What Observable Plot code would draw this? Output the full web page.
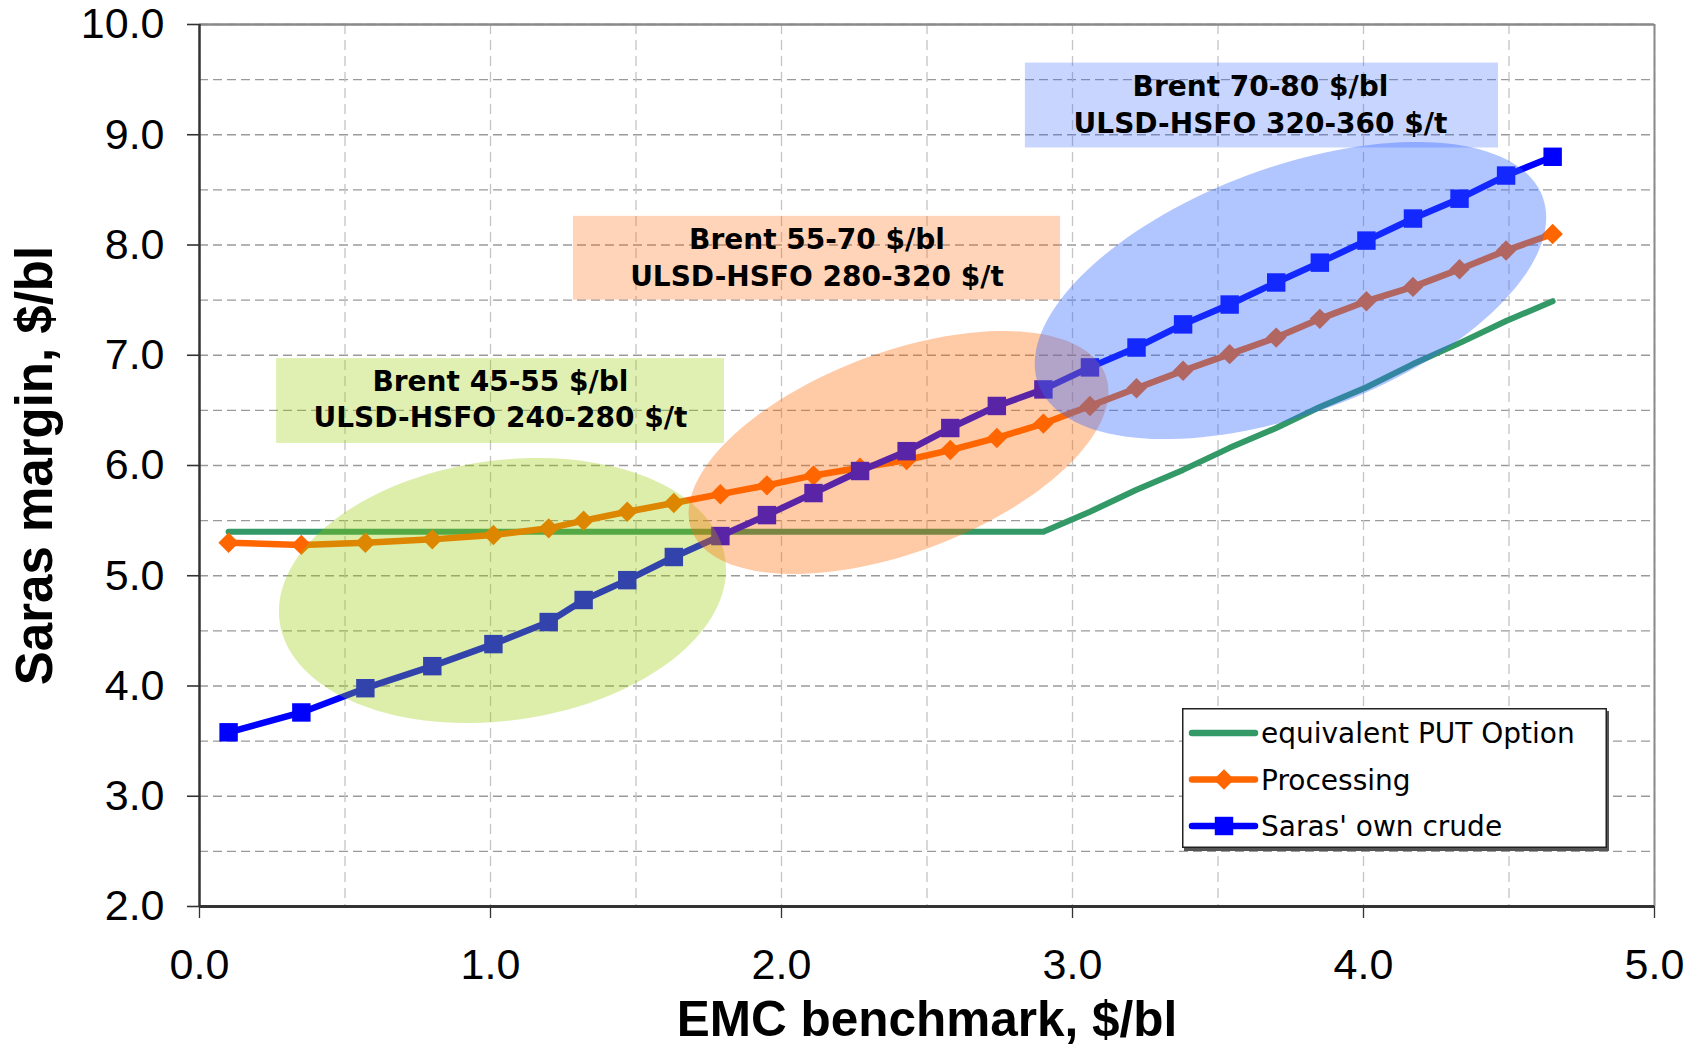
<!DOCTYPE html>
<html>
<head>
<meta charset="utf-8">
<script src="https://cdn.jsdelivr.net/npm/d3@7"></script>
<script src="https://cdn.jsdelivr.net/npm/@observablehq/plot@0.6"></script>
<style>
  html, body { margin: 0; padding: 0; background: #fff; }
  #wrap { position: relative; width: 1698px; height: 1046px; overflow: hidden; }
  #legend { position: absolute; left: 1182px; top: 708px; }
</style>
</head>
<body>
<div id="wrap"><div id="chart"></div><div id="legend"></div></div>
<script>
// ---------------- data ----------------
const emc = [0.10, 0.35, 0.57, 0.80, 1.01, 1.20, 1.32, 1.47, 1.63, 1.79, 1.95, 2.11, 2.27, 2.43,
             2.58, 2.74, 2.90, 3.06, 3.22, 3.38, 3.54, 3.70, 3.85, 4.01, 4.17, 4.33, 4.49, 4.65];
const putOption = [5.40, 5.40, 5.40, 5.40, 5.40, 5.40, 5.40, 5.40, 5.40, 5.40, 5.40, 5.40, 5.40, 5.40,
                   5.40, 5.40, 5.40, 5.58, 5.78, 5.96, 6.16, 6.34, 6.53, 6.71, 6.92, 7.11, 7.31, 7.49];
const processing = [5.30, 5.28, 5.30, 5.33, 5.37, 5.43, 5.50, 5.58, 5.66, 5.74, 5.82, 5.91, 5.98, 6.05,
                    6.14, 6.25, 6.38, 6.54, 6.70, 6.86, 7.01, 7.16, 7.33, 7.49, 7.62, 7.78, 7.95, 8.10];
const ownCrude = [3.58, 3.76, 3.98, 4.18, 4.38, 4.58, 4.78, 4.96, 5.17, 5.36, 5.55, 5.75, 5.95, 6.13,
                  6.34, 6.54, 6.69, 6.89, 7.07, 7.28, 7.46, 7.66, 7.84, 8.04, 8.24, 8.42, 8.63, 8.80];
const seriesNames = ["equivalent PUT Option", "Processing", "Saras' own crude"];

const xTicks = [0, 1, 2, 3, 4, 5];
const yTicks = [2, 3, 4, 5, 6, 7, 8, 9, 10];
const xTitle = "EMC benchmark, $/bl";
const yTitle = "Saras margin, $/bl";

// scenario annotations (data units)
const boxLabels = ["Brent 45-55 $/bl\nULSD-HSFO 240-280 $/t",
                   "Brent 55-70 $/bl\nULSD-HSFO 280-320 $/t",
                   "Brent 70-80 $/bl\nULSD-HSFO 320-360 $/t"];
const boxX1 = [0.265, 1.285, 2.838];
const boxX2 = [1.804, 2.959, 4.464];
const boxY1 = [6.20, 7.50, 8.88];
const boxY2 = [6.97, 8.26, 9.65];
const boxTextX = [1.034, 2.122, 3.646];
const boxTextY = [6.62, 7.90, 9.29];
// ellipse centres (data units), semi-axes (px) and tilt (deg)
const ellCx = [1.041, 2.402, 3.749];
const ellCy = [4.866, 6.118, 7.587];
const ellA = [225, 221, 269];
const ellB = [130, 100, 123];
const ellAngle = [8, 20.5, 20.4];

// ---------------- layout / style ----------------
const W = 1698, H = 1046, mL = 199, mR = 44, mT = 24, mB = 140;
const kx = (W - mL - mR) / (xTicks[xTicks.length - 1] - xTicks[0]);
const ky = (H - mT - mB) / (yTicks[yTicks.length - 1] - yTicks[0]);
const colGreen = "#339966", colOrange = "#ff6600", colBlue = "#0000ff";
const tintColors = ["#99cc00", "#ff6600", "#3366ff"];
const ellOpacity = [0.33, 0.35, 0.38];
const boxOpacity = [0.30, 0.28, 0.27];
const fmt = d3.format(".1f");
const rDiamond = 9.2, rSquare = 10.4;

const rows = emc.map((x, i) => ({x, put: putOption[i], proc: processing[i], own: ownCrude[i]}));

function ellipsePoints(k) {
  const pts = [];
  const phi = ellAngle[k] * Math.PI / 180;
  for (let i = 0; i < 144; i++) {
    const t = i / 144 * 2 * Math.PI;
    const dx = ellA[k] * Math.cos(t) * Math.cos(phi) - ellB[k] * Math.sin(t) * Math.sin(phi);
    const dy = ellA[k] * Math.cos(t) * Math.sin(phi) + ellB[k] * Math.sin(t) * Math.cos(phi);
    pts.push({x: ellCx[k] + dx / kx, y: ellCy[k] + dy / ky});
  }
  return pts;
}

const boxes = boxLabels.map((t, i) => ({t, x1: boxX1[i], x2: boxX2[i], y1: boxY1[i], y2: boxY2[i],
                                         tx: boxTextX[i], ty: boxTextY[i], c: tintColors[i], o: boxOpacity[i]}));

const marks = [
  Plot.gridY({interval: 0.5, stroke: "#9a9a9a", strokeOpacity: 1, strokeWidth: 1.3, strokeDasharray: "9,5"}),
  Plot.gridX({interval: 0.5, stroke: "#c4c4c4", strokeOpacity: 1, strokeWidth: 1.3, strokeDasharray: "10,6"}),
  Plot.ruleY([yTicks[yTicks.length - 1]], {stroke: "#8a8a8a", strokeWidth: 2.5}),
  Plot.ruleX([xTicks[xTicks.length - 1]], {stroke: "#8a8a8a", strokeWidth: 2}),
  Plot.line(rows, {x: "x", y: "put", stroke: colGreen, strokeWidth: 6, strokeLinejoin: "round", strokeLinecap: "round"}),
  Plot.line(rows, {x: "x", y: "proc", stroke: colOrange, strokeWidth: 6.5, strokeLinejoin: "round"}),
  Plot.dot(rows, {x: "x", y: "proc", symbol: "diamond2", r: rDiamond, fill: colOrange, stroke: "none"}),
  Plot.line(rows, {x: "x", y: "own", stroke: colBlue, strokeWidth: 6.5, strokeLinejoin: "round"}),
  Plot.dot(rows, {x: "x", y: "own", symbol: "square", r: rSquare, fill: colBlue, stroke: "none"}),
];
for (let k = 0; k < 3; k++) {
  marks.push(Plot.line(ellipsePoints(k), {x: "x", y: "y", curve: "linear-closed", fill: tintColors[k],
                                          fillOpacity: ellOpacity[k], stroke: "none"}));
}
marks.push(
  Plot.rect(boxes, {x1: "x1", x2: "x2", y1: "y1", y2: "y2", fill: d => d.c, fillOpacity: d => d.o}),
  Plot.text(boxes, {x: "tx", y: "ty", text: "t", fontSize: 28, fontWeight: "bold", lineHeight: 1.32,
                    lineAnchor: "middle", fontFamily: "DejaVu Sans, sans-serif", fill: "#000"}),
  Plot.ruleX([xTicks[0]], {stroke: "#333", strokeWidth: 2.5}),
  Plot.ruleY([yTicks[0]], {stroke: "#333", strokeWidth: 3}),
  Plot.axisY({ticks: yTicks, tickFormat: fmt, tickSize: 12, tickPadding: 23, fontSize: 43, stroke: "#333", strokeWidth: 1.6, label: null}),
  Plot.axisX({ticks: xTicks, tickFormat: fmt, tickSize: 12, tickPadding: 30, fontSize: 43, stroke: "#333", strokeWidth: 1.3, label: null}),
  Plot.text([xTitle], {text: d => d, frameAnchor: "bottom", textAnchor: "middle", dy: 114, lineAnchor: "middle",
                       fontSize: 49.5, fontWeight: "bold"}),
  Plot.text([yTitle], {text: d => d, frameAnchor: "left", textAnchor: "middle", dx: -164, rotate: -90, lineAnchor: "middle",
                       fontSize: 51, fontWeight: "bold"})
);

const chart = Plot.plot({
  width: W, height: H,
  marginLeft: mL, marginRight: mR, marginTop: mT, marginBottom: mB,
  x: {domain: [xTicks[0], xTicks[xTicks.length - 1]]},
  y: {domain: [yTicks[0], yTicks[yTicks.length - 1]]},
  style: {fontFamily: "'Liberation Sans', Arial, sans-serif", color: "#000", background: "#fff", overflow: "visible"},
  marks
});
document.getElementById("chart").appendChild(chart);

// ---------------- legend (inside plot frame) ----------------
const LW = 425, LH = 140;
const leg = d3.select("#legend").append("svg").attr("width", LW + 4).attr("height", LH + 4)
  .style("overflow", "visible");
leg.append("rect").attr("x", 2).attr("y", 3).attr("width", LW).attr("height", LH).attr("fill", "#555");
leg.append("rect").attr("x", 0.75).attr("y", 0.75).attr("width", LW - 1.5).attr("height", LH - 1.5)
  .attr("fill", "#fff").attr("stroke", "#222").attr("stroke-width", 1.5);
const legColors = [colGreen, colOrange, colBlue];
const legSymbols = [null, d3.symbolDiamond2, d3.symbolSquare];
const legSizes = [0, Math.PI * rDiamond * rDiamond, Math.PI * rSquare * rSquare];
seriesNames.forEach((name, i) => {
  const cy = 25 + i * 46.5;
  leg.append("line").attr("x1", 10).attr("x2", 73).attr("y1", cy).attr("y2", cy)
    .attr("stroke", legColors[i]).attr("stroke-width", 6.5).attr("stroke-linecap", "round");
  if (legSymbols[i]) {
    leg.append("path").attr("d", d3.symbol().type(legSymbols[i]).size(legSizes[i])())
      .attr("transform", `translate(42,${cy})`).attr("fill", legColors[i]);
  }
  leg.append("text").attr("x", 79).attr("y", cy).attr("dy", "0.36em")
    .attr("font-family", "DejaVu Sans, sans-serif").attr("font-size", 28).attr("fill", "#000").text(name);
});
</script>
</body>
</html>
